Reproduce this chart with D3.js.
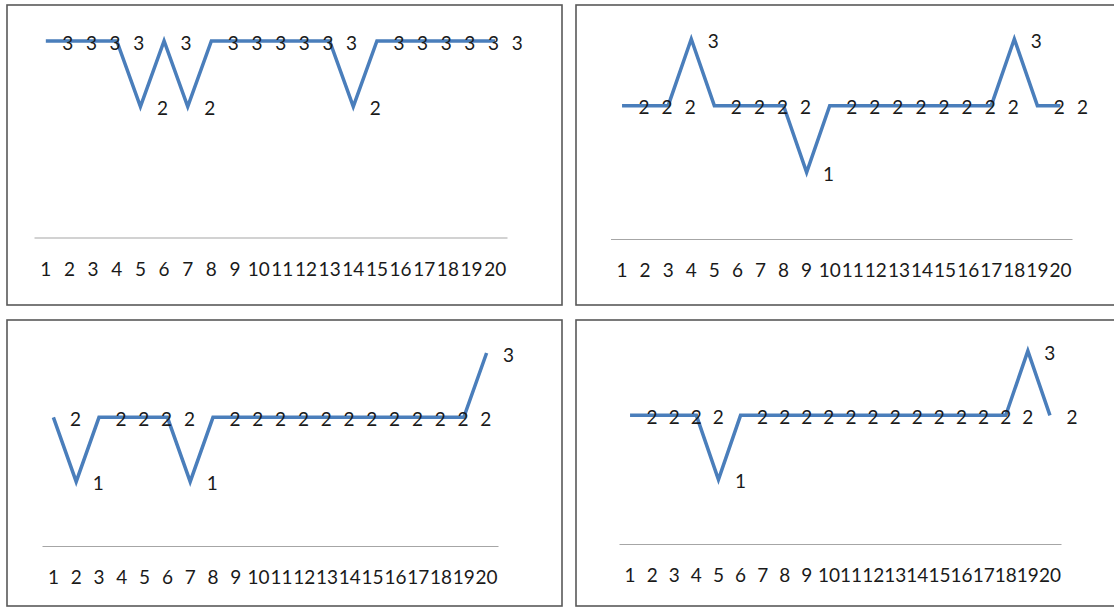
<!DOCTYPE html>
<html>
<head>
<meta charset="utf-8">
<script src="https://cdn.jsdelivr.net/npm/d3@7"></script>
<style>
  html, body { margin: 0; padding: 0; background: #fff; }
  svg { display: block; }
  text { font-family: Lato, "Open Sans", sans-serif; }
</style>
</head>
<body>
<svg id="chart" width="1114" height="608"></svg>
<script>
// ---- data ----
const categories = d3.range(1, 21).map(String);
const seriesA = [3,3,3,3,2,3,2,3,3,3,3,3,3,2,3,3,3,3,3,3];
const seriesB = [2,2,2,3,2,2,2,2,1,2,2,2,2,2,2,2,2,3,2,2];
const seriesC = [2,1,2,2,2,2,1,2,2,2,2,2,2,2,2,2,2,2,2,3];
const seriesD = [2,2,2,2,1,2,2,2,2,2,2,2,2,2,2,2,2,2,3,2];
const yDomain = [0, 3];

// ---- layout ----
const panels = [
  { values: seriesA, box: [7, 5, 555, 300],   x: [34, 507],    y: [237.5, 41] },
  { values: seriesB, box: [576, 5, 560, 300], x: [610.5, 1072], y: [239, 39] },
  { values: seriesC, box: [7, 320, 555, 286], x: [42, 498],    y: [546, 353] },
  { values: seriesD, box: [576, 320, 560, 286], x: [619, 1061], y: [544, 351] }
];

const svg = d3.select("#chart");

panels.forEach(p => {
  const g = svg.append("g");
  g.append("rect")
    .attr("x", p.box[0]).attr("y", p.box[1])
    .attr("width", p.box[2]).attr("height", p.box[3])
    .attr("fill", "#fff").attr("stroke", "#595959").attr("stroke-width", 1.6);

  const x = d3.scaleBand().domain(categories).range(p.x);
  const y = d3.scaleLinear().domain(yDomain).range(p.y);
  const cx = c => x(c) + x.bandwidth() / 2;

  const axis = g.append("g")
    .attr("transform", `translate(0,${y(0)})`)
    .call(d3.axisBottom(x).tickSize(0).tickSizeOuter(0).tickPadding(25));
  axis.select(".domain").attr("stroke", "#a6a6a6").attr("stroke-width", 1.2);
  axis.selectAll("text")
    .attr("font-family", "Lato, sans-serif")
    .attr("font-size", 19).attr("fill", "#1a1a1a");

  const data = categories.map((c, i) => ({ c, v: p.values[i] }));

  g.append("path")
    .datum(data)
    .attr("fill", "none")
    .attr("stroke", "#4a7ebb")
    .attr("stroke-width", 3.5)
    .attr("stroke-linejoin", "miter")
    .attr("d", d3.line().x(d => cx(d.c)).y(d => y(d.v)));

  g.selectAll("text.lbl")
    .data(data)
    .join("text")
    .attr("class", "lbl")
    .attr("x", d => cx(d.c) + 22)
    .attr("y", d => y(d.v) + 2)
    .attr("dy", "0.35em")
    .attr("text-anchor", "middle")
    .attr("font-size", 19)
    .attr("fill", "#1a1a1a")
    .text(d => d.v);
});
</script>
</body>
</html>
